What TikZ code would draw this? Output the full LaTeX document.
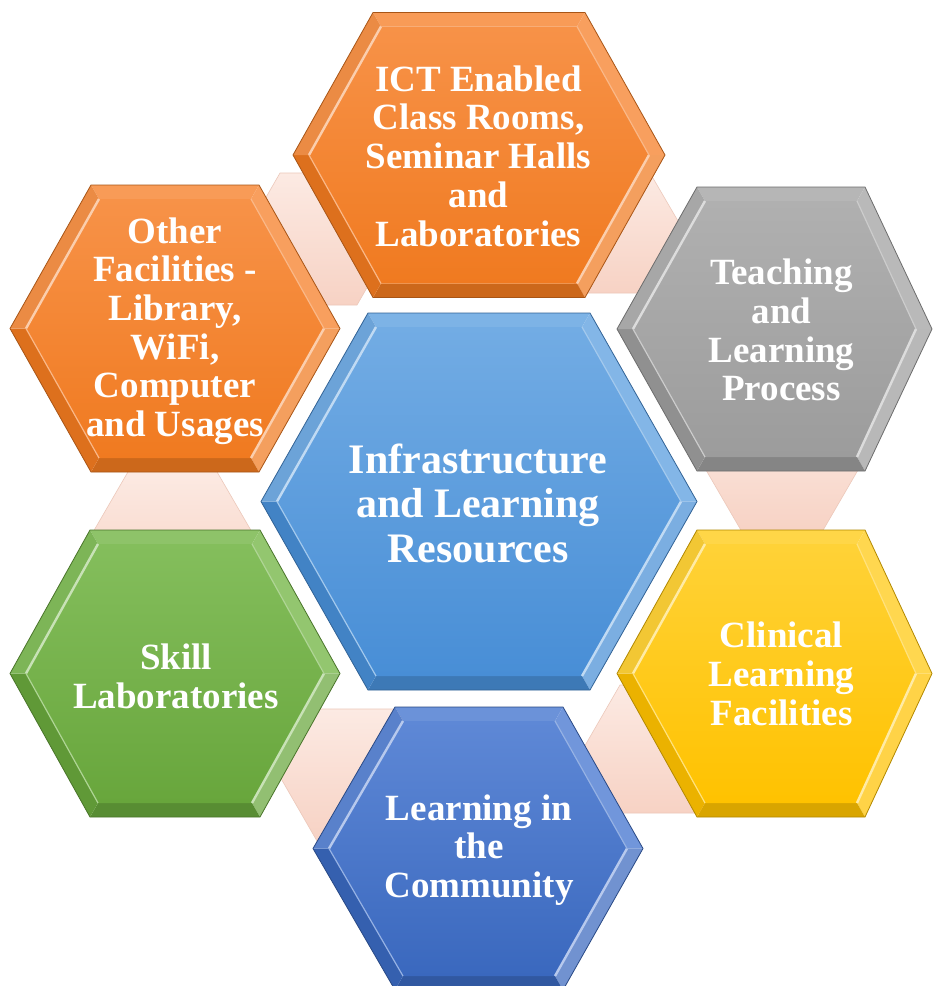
\documentclass[tikz,border=0pt]{standalone}
\usepackage{fontspec}
\setmainfont{Liberation Serif}
\definecolor{orT}{RGB}{247,146,72}
\definecolor{orB}{RGB}{240,122,32}
\definecolor{cenT}{RGB}{114,172,228}
\definecolor{cenB}{RGB}{72,142,214}
\definecolor{grT}{RGB}{176,176,176}
\definecolor{grB}{RGB}{156,156,156}
\definecolor{yeT}{RGB}{255,210,55}
\definecolor{yeB}{RGB}{255,194,0}
\definecolor{gnT}{RGB}{132,190,92}
\definecolor{gnB}{RGB}{104,166,60}
\definecolor{cmT}{RGB}{94,136,214}
\definecolor{cmB}{RGB}{58,104,190}
\definecolor{pkT}{RGB}{252,234,227}
\definecolor{pkB}{RGB}{247,210,196}
\definecolor{pkE}{RGB}{236,200,186}
% #1 name, #2 cx, #3 cy, #4 wl, #5 wr, #6 t, #7 h, #8 top colour, #9 bottom colour
\newcommand{\hexshape}[9]{%
 \coordinate (#1L) at ({#2-#4},{#3});
 \coordinate (#1TL) at ({#2-#6},{#3-#7});
 \coordinate (#1TR) at ({#2+#6},{#3-#7});
 \coordinate (#1R) at ({#2+#5},{#3});
 \coordinate (#1BR) at ({#2+#6},{#3+#7});
 \coordinate (#1BL) at ({#2-#6},{#3+#7});
 \coordinate (#1l) at ({#2-#4+16},{#3});
 \coordinate (#1tl) at ({#2-#6+8},{#3-#7+14});
 \coordinate (#1tr) at ({#2+#6-8},{#3-#7+14});
 \coordinate (#1r) at ({#2+#5-16},{#3});
 \coordinate (#1br) at ({#2+#6-8},{#3+#7-14});
 \coordinate (#1bl) at ({#2-#6+8},{#3+#7-14});
 \fill[#8!92!white] (#1TL)--(#1TR)--(#1tr)--(#1tl)--cycle;
 \fill[#8!88!white] (#1TR)--(#1R)--(#1r)--(#1tr)--cycle;
 \fill[#9!72!white] (#1R)--(#1BR)--(#1br)--(#1r)--cycle;
 \fill[#9!85!black] (#1BR)--(#1BL)--(#1bl)--(#1br)--cycle;
 \fill[#9!92!black] (#1BL)--(#1L)--(#1l)--(#1bl)--cycle;
 \fill[#8!95!black] (#1L)--(#1TL)--(#1tl)--(#1l)--cycle;
 \shade[top color=#8, bottom color=#9] (#1l)--(#1tl)--(#1tr)--(#1r)--(#1br)--(#1bl)--cycle;
 \draw[#8!45!white, line width=2.4] (#1l)--(#1tl) (#1r)--(#1br);
 \draw[#8!65!white, line width=1.2] (#1bl)--(#1l) (#1tr)--(#1r);
 \draw[#9!70!black, line width=0.8, line join=miter] (#1L)--(#1TL)--(#1TR)--(#1R)--(#1BR)--(#1BL)--cycle;
}
% #1 name, #2 cx, #3 cy, #4 w, #5 t, #6 h
\newcommand{\connhex}[6]{%
 \shade[top color=pkT, bottom color=pkB, draw=pkE, line width=0.6]
   ({#2-#4},{#3}) coordinate (#1L) -- ({#2-#5},{#3-#6}) -- ({#2+#5},{#3-#6}) --
   ({#2+#4},{#3}) coordinate (#1R) -- ({#2+#5},{#3+#6}) -- ({#2-#5},{#3+#6}) -- cycle;
}
\tikzset{
 lbl/.style={text=white, align=center, inner sep=0pt,
   font=\bfseries\fontsize{37}{38.7}\selectfont},
 biglbl/.style={lbl, font=\bfseries\fontsize{42}{44.5}\selectfont}
}
\begin{document}
\begin{tikzpicture}[x=1pt,y=-1pt]
\useasboundingbox (0,0) rectangle (933,986);
\clip (0,0) rectangle (933,986);
\fill[white] (0,0) rectangle (933,986);
% connectors (behind)
\connhex{c1}{318.5}{239}{76.5}{38.5}{66}
\connhex{c2}{615}{233}{70}{35}{60}
\connhex{c3}{782}{470}{76}{40}{62}
\connhex{c4}{660}{749}{77}{40}{64}
\connhex{c5}{357}{775}{78}{40}{66}
\connhex{c6}{172.5}{533}{80}{44}{62}
% hexagons
\hexshape{ict}{479}{155}{186}{186}{106}{142.5}{orT}{orB}
\hexshape{oth}{175}{328.5}{165}{165}{84}{143.5}{orT}{orB}
\hexshape{tea}{781}{329}{164}{151}{84}{142}{grT}{grB}
\hexshape{cli}{781}{673.5}{164}{151}{84}{143.5}{yeT}{yeB}
\hexshape{ski}{175}{673.5}{165}{165}{85}{143.5}{gnT}{gnB}
\hexshape{com}{479}{848.5}{166}{164}{84}{141.5}{cmT}{cmB}
\hexshape{cen}{479}{501.5}{218}{218}{111}{188.5}{cenT}{cenB}
% labels
\node[biglbl] (tcen) at (478,503) {Infrastructure\\and Learning\\Resources};
\node[lbl] (tict) at (478.5,156) {ICT Enabled\\Class Rooms,\\Seminar Halls\\and\\Laboratories};
\node[lbl] (toth) at (175,331) {Other\\Facilities -\\Library,\\WiFi,\\Computer\\and Usages};
\node[lbl] (ttea) at (781.5,330) {Teaching\\and\\Learning\\Process};
\node[lbl] (tcli) at (781.5,674) {Clinical\\Learning\\Facilities};
\node[lbl] (tski) at (176,676) {Skill\\Laboratories};
\node[lbl] (tcom) at (479,850) {Learning in\\the\\Community};
\end{tikzpicture}
\end{document}
